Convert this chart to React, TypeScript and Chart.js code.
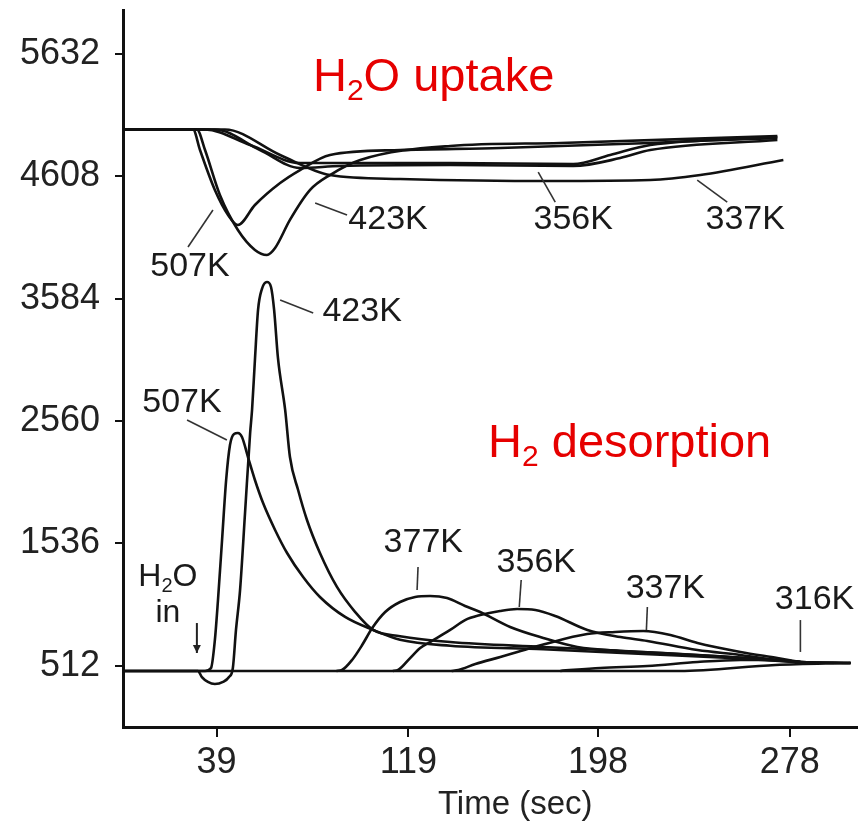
import React, { useEffect, useRef } from "react";
import { Chart, registerables } from "chart.js";

Chart.register(...registerables);

const FONT = '"Liberation Sans", Arial, Helvetica, sans-serif';

const xTicks = [39, 119, 198, 278];
const yTicks = [512, 1536, 2560, 3584, 4608, 5632];
const xTitle = "Time (sec)";

// ---- H2O uptake (upper traces) ----
const up507T = [0, 29.2, 32.1, 38.3, 43.8, 47.9, 55.0, 65.5, 73.8, 86.3, 115.5, 157.4, 219.8, 272.8];
const up507V = [5000, 5000, 4828, 4494, 4285, 4201, 4368, 4552, 4661, 4787, 4828, 4845, 4887, 4937];

const up423T = [0, 30.8, 34.2, 40.4, 47.9, 55.0, 60.0, 63.4, 69.6, 78.0, 86.3, 98.9, 136.4, 182.3, 272.8];
const up423V = [5000, 5000, 4828, 4452, 4159, 3992, 3950, 4008, 4243, 4494, 4619, 4745, 4862, 4887, 4946];

const up377T = [0, 34.2, 53.0, 73.8, 94.7, 136.4, 187.7, 203.1, 219.8, 272.8];
const up377V = [5000, 5000, 4870, 4720, 4720, 4720, 4711, 4787, 4870, 4929];

const up356T = [0, 38.3, 57.1, 73.8, 90.5, 136.4, 187.7, 207.3, 219.8, 272.8];
const up356V = [5000, 5000, 4828, 4678, 4695, 4703, 4695, 4761, 4828, 4912];

const up337T = [0, 42.5, 65.5, 86.3, 115.5, 178.1, 219.8, 240.7, 275.3];
const up337V = [5000, 5000, 4787, 4619, 4586, 4569, 4577, 4619, 4745];

// ---- H2 desorption (lower traces) ----
const baseT = [0, 232, 272, 303.4];
const baseV = [469, 469, 519, 536];

const des507T = [0, 34.2, 36.7, 38.3, 39.6, 41.3, 43.0, 44.6, 46.3, 47.9, 49.6, 52.1, 55.0, 58.4, 63.4, 68.4, 75.1, 82.1, 92.6, 104.3, 115.5, 136.4, 175.2, 217, 253.2, 282.4, 303.3];
const des507V = [469, 469, 494, 728, 1063, 1565, 2067, 2360, 2452, 2460, 2427, 2259, 2067, 1874, 1649, 1456, 1255, 1088, 921, 812, 730, 680, 650, 611, 577, 544, 536];

const des423T = [0, 31.2, 32.9, 35.4, 38.3, 41.7, 44.2, 45.8, 47.1, 48.8, 50.9, 53.0, 53.8, 55.0, 56.3, 57.9, 60.0, 61.7, 63.0, 64.6, 67.6, 69.6, 73.0, 76.7, 82.1, 89.2, 96.8, 104.3, 115.5, 136.4, 175.2, 217, 253.2, 282.4, 303.3];
const des423V = [469, 469, 418, 377, 360, 377, 418, 494, 812, 1146, 1799, 2460, 2653, 3071, 3490, 3665, 3724, 3682, 3490, 3088, 2653, 2259, 1983, 1732, 1456, 1172, 962, 812, 760, 711, 670, 628, 586, 544, 536];

const des377T = [89, 91.3, 95.5, 99.7, 103.9, 109.3, 115.5, 121.8, 128.0, 135.1, 142.6, 148.9, 161.4, 175.2, 189.4, 207.3, 225.2, 253.2, 272.8, 282.4];
const des377V = [469, 477, 561, 686, 828, 962, 1046, 1088, 1096, 1079, 1013, 962, 837, 745, 669, 636, 619, 586, 561, 544];

const des356T = [112.5, 114.7, 119.7, 123.9, 128.0, 136.4, 142.6, 148.9, 157.2, 164.3, 171.9, 180.2, 193.6, 207.4, 218.6, 239.5, 257.4, 272.8, 282.4];
const des356V = [469, 477, 577, 661, 711, 812, 895, 937, 971, 987, 979, 929, 812, 753, 720, 644, 603, 561, 544];

const des337T = [137, 139.8, 146.9, 157.3, 164.4, 176.0, 193.5, 205.2, 216.9, 228.2, 239.5, 257.4, 272.8, 282.4];
const des337V = [469, 477, 527, 586, 628, 695, 778, 795, 803, 770, 703, 628, 577, 544];

const des316T = [182.3, 199.0, 218.6, 239.5, 257.4, 272.8, 282.4, 303.3];
const des316V = [469, 494, 510, 544, 561, 561, 544, 536];

// ---- curve labels (data coordinates) ----
const labelText = ["507K", "423K", "356K", "337K", "423K", "507K", "377K", "356K", "337K", "316K"];
const labelT = [27.9, 110.5, 187.7, 259.4, 99.7, 24.6, 125.2, 172.3, 226.1, 288.3];
const labelV = [3849, 4243, 4243, 4243, 3473, 2711, 1540, 1372, 1155, 1063];
const leaderT1 = [27.1, 80.1, 173.1, 239.4, 65.5, 26.7, 123.0, 166.0, 218.6, 282.4];
const leaderV1 = [4017, 4385, 4644, 4577, 3573, 2569, 1339, 1230, 1004, 895];
const leaderT2 = [37.5, 93.4, 180.2, 251.9, 79.3, 43.3, 122.6, 165.2, 218.2, 282.4];
const leaderV2 = [4326, 4285, 4393, 4393, 3464, 2402, 1146, 1004, 812, 628];

const titleUptake = { t: 79.2, v: 5322 };
const titleDesorp = { t: 152.2, v: 2259 };
const h2oIn = { t: 18.7, vTop: 1255, vBottom: 954 };
const arrow = { t: 30.8, v1: 870, v2: 619 };

const seriesList = [
  { name: "507K uptake", t: up507T, v: up507V },
  { name: "423K uptake", t: up423T, v: up423V },
  { name: "377K uptake", t: up377T, v: up377V },
  { name: "356K uptake", t: up356T, v: up356V },
  { name: "337K uptake", t: up337T, v: up337V },
  { name: "baseline", t: baseT, v: baseV },
  { name: "507K H2", t: des507T, v: des507V },
  { name: "423K H2", t: des423T, v: des423V },
  { name: "377K H2", t: des377T, v: des377V },
  { name: "356K H2", t: des356T, v: des356V },
  { name: "337K H2", t: des337T, v: des337V },
  { name: "316K H2", t: des316T, v: des316V },
];

function drawSubText(ctx: CanvasRenderingContext2D, parts: [string, boolean][], x: number, y: number, size: number, subSize: number, subDrop: number) {
  let cx = x;
  for (const [txt, sub] of parts) {
    ctx.font = `${sub ? subSize : size}px ${FONT}`;
    ctx.fillText(txt, cx, sub ? y + subDrop : y);
    cx += ctx.measureText(txt).width;
  }
}

function measureParts(ctx: CanvasRenderingContext2D, parts: [string, boolean][], size: number, subSize: number) {
  let w = 0;
  for (const [txt, sub] of parts) {
    ctx.font = `${sub ? subSize : size}px ${FONT}`;
    w += ctx.measureText(txt).width;
  }
  return w;
}

const annotationPlugin = {
  id: "curveAnnotations",
  afterDatasetsDraw(chart: any) {
    const ctx: CanvasRenderingContext2D = chart.ctx;
    const xs = chart.scales.x;
    const ys = chart.scales.y;
    const px = (t: number) => xs.getPixelForValue(t);
    const py = (v: number) => ys.getPixelForValue(v);
    ctx.save();
    // leader lines
    ctx.strokeStyle = "#333";
    ctx.lineWidth = 1.6;
    for (let i = 0; i < labelText.length; i++) {
      ctx.beginPath();
      ctx.moveTo(px(leaderT1[i]), py(leaderV1[i]));
      ctx.lineTo(px(leaderT2[i]), py(leaderV2[i]));
      ctx.stroke();
    }
    // labels
    ctx.fillStyle = "#1a1a1a";
    ctx.textAlign = "center";
    ctx.textBaseline = "middle";
    ctx.font = `34px ${FONT}`;
    for (let i = 0; i < labelText.length; i++) {
      ctx.fillText(labelText[i], px(labelT[i]), py(labelV[i]));
    }
    // H2O in
    const h2oParts: [string, boolean][] = [["H", false], ["2", true], ["O", false]];
    const w = measureParts(ctx, h2oParts, 32, 20);
    ctx.textAlign = "left";
    drawSubText(ctx, h2oParts, px(h2oIn.t) - w / 2, py(h2oIn.vTop), 32, 20, 9);
    ctx.textAlign = "center";
    ctx.font = `32px ${FONT}`;
    ctx.fillText("in", px(h2oIn.t), py(h2oIn.vBottom));
    // arrow
    const ax = px(arrow.t);
    const ay1 = py(arrow.v1);
    const ay2 = py(arrow.v2);
    ctx.strokeStyle = "#222";
    ctx.lineWidth = 2;
    ctx.beginPath();
    ctx.moveTo(ax, ay1);
    ctx.lineTo(ax, ay2);
    ctx.stroke();
    ctx.fillStyle = "#222";
    ctx.beginPath();
    ctx.moveTo(ax - 4, ay2 - 8);
    ctx.lineTo(ax + 4, ay2 - 8);
    ctx.lineTo(ax, ay2);
    ctx.closePath();
    ctx.fill();
    // red titles
    ctx.fillStyle = "#e60000";
    ctx.textAlign = "left";
    ctx.textBaseline = "alphabetic";
    drawSubText(ctx, [["H", false], ["2", true], ["O uptake", false]], px(titleUptake.t), py(titleUptake.v), 47, 30, 9);
    drawSubText(ctx, [["H", false], ["2", true], [" desorption", false]], px(titleDesorp.t), py(titleDesorp.v), 47, 30, 9);
    // x axis title
    ctx.fillStyle = "#222";
    ctx.textAlign = "center";
    ctx.textBaseline = "middle";
    ctx.font = `33px ${FONT}`;
    ctx.fillText(xTitle, px(163.5), chart.chartArea.bottom + 78);
    ctx.restore();
  },
};

export default function App() {
  const ref = useRef<HTMLCanvasElement>(null);
  useEffect(() => {
    const canvas = ref.current;
    if (!canvas) return;
    const chart = new Chart(canvas, {
      type: "line",
      data: {
        datasets: seriesList.map((s) => ({
          label: s.name,
          data: s.t.map((t, i) => ({ x: t, y: s.v[i] })),
          borderColor: "#111",
          backgroundColor: "#111",
          borderWidth: 2.6,
          pointRadius: 0,
          fill: false,
          cubicInterpolationMode: "monotone" as const,
        })),
      },
      options: {
        responsive: false,
        animation: false,
        devicePixelRatio: 1,
        layout: { padding: { top: 10, right: 6, left: 0, bottom: 0 } },
        plugins: { legend: { display: false }, tooltip: { enabled: false }, title: { display: false } },
        scales: {
          x: {
            type: "linear",
            min: 0,
            max: 306,
            afterFit: (s: any) => { s.height = 97; s.paddingLeft = 0; s.paddingRight = 0; },
            afterBuildTicks: (a: any) => { a.ticks = xTicks.map((v) => ({ value: v })); },
            ticks: { font: { family: FONT, size: 36 }, color: "#222", padding: 4, maxRotation: 0, autoSkip: false, callback: (v: any) => String(v) },
            grid: { display: true, drawOnChartArea: false, drawTicks: true, tickLength: 10, color: "#111", lineWidth: 2 },
            border: { display: true, color: "#111", width: 3 },
          },
          y: {
            type: "linear",
            min: 0,
            max: 6000,
            afterFit: (s: any) => { s.width = 123; s.paddingTop = 0; s.paddingBottom = 0; },
            afterBuildTicks: (a: any) => { a.ticks = yTicks.map((v) => ({ value: v })); },
            ticks: { font: { family: FONT, size: 36 }, color: "#222", padding: 15, autoSkip: false, callback: (v: any) => String(v) },
            grid: { display: true, drawOnChartArea: false, drawTicks: true, tickLength: 8, color: "#111", lineWidth: 2 },
            border: { display: true, color: "#111", width: 3 },
          },
        },
      },
      plugins: [annotationPlugin],
    });
    return () => chart.destroy();
  }, []);
  return (
    <div style={{ position: "absolute", left: 0, top: 0, width: 863, height: 824 }}>
      <canvas ref={ref} width={863} height={824} style={{ display: "block" }} />
    </div>
  );
}
